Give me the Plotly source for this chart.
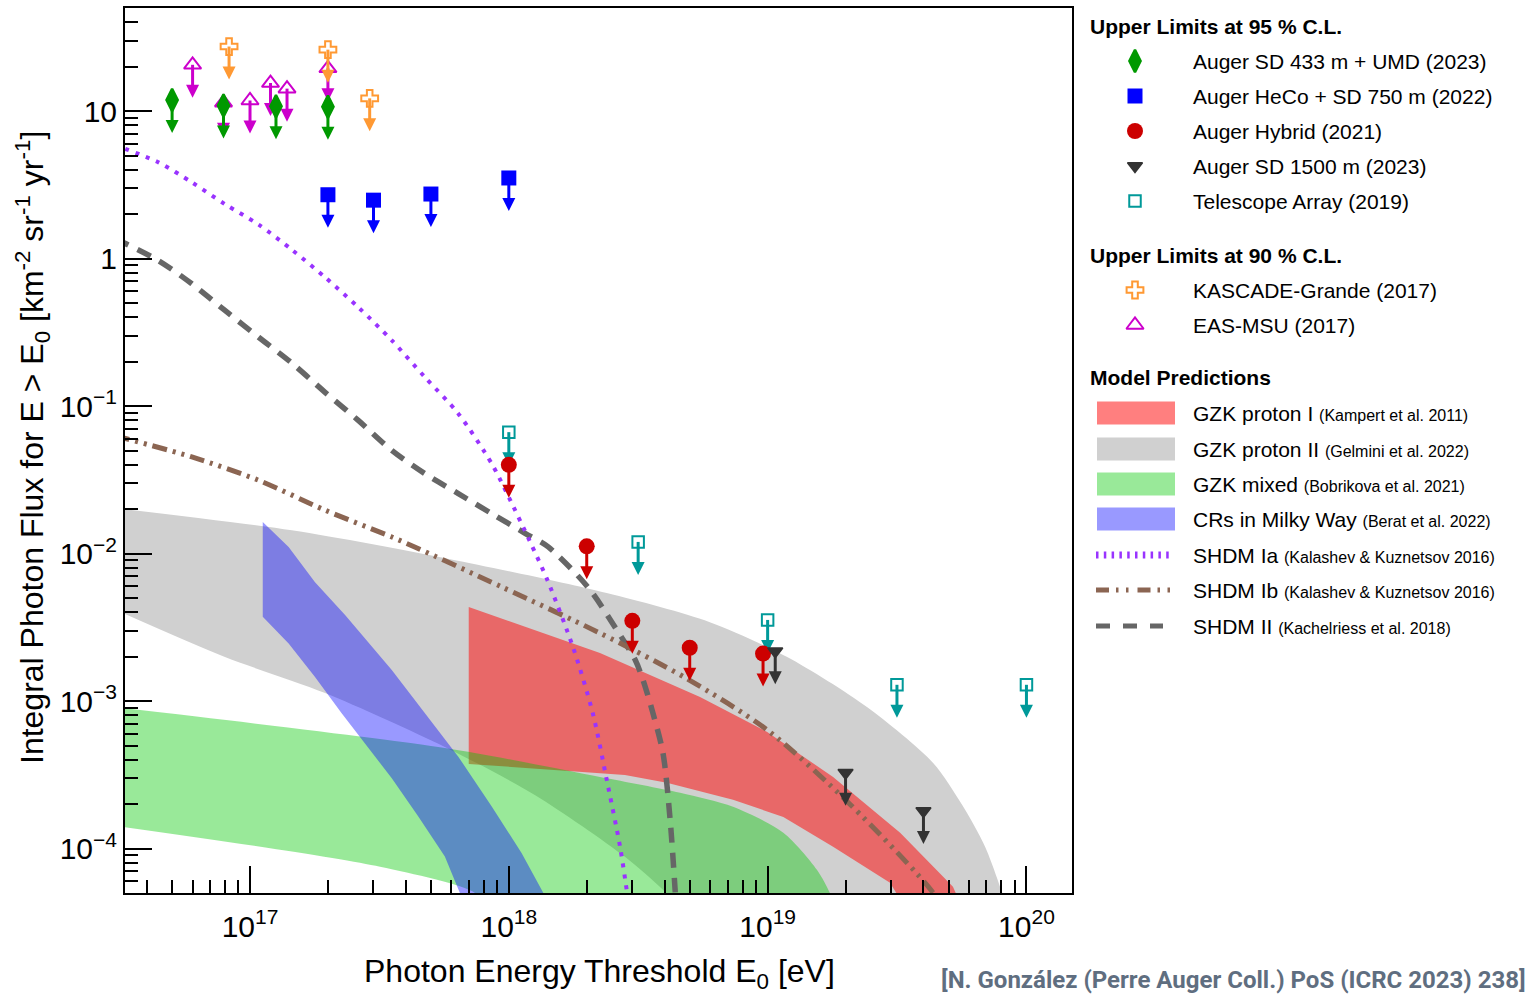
import plotly.graph_objects as go

# ------------------------------------------------------------------
# DATA  (E0 threshold in eV, integral photon flux in km^-2 sr^-1 yr^-1)
# ------------------------------------------------------------------
# Upper limits
sd433_E = [5.0e16, 7.9e16, 1.26e17, 2.0e17]
sd433_F = [11.9, 10.9, 10.8, 10.7]
heco_E = [2.0e17, 3.0e17, 5.0e17, 1.0e18]
heco_F = [2.71, 2.49, 2.74, 3.52]
hybrid_E = [1.0e18, 2.0e18, 3.0e18, 5.0e18, 9.6e18]
hybrid_F = [0.040, 0.0112, 0.0035, 0.0023, 0.0021]
sd1500_E = [1.07e19, 2.0e19, 4.0e19]
sd1500_F = [2.18e-3, 3.27e-4, 1.80e-4]
ta_E = [1.0e18, 3.16e18, 1.0e19, 3.16e19, 1.0e20]
ta_F = [0.0666, 0.0120, 0.00355, 0.00129, 0.00129]
kg_E = [8.3e16, 2.0e17, 2.9e17]
kg_F = [27.4, 26.1, 12.2]
msu_E = [6.0e16, 7.9e16, 1.0e17, 1.2e17, 1.39e17, 2.0e17]
msu_F = [20.6, 11.4, 11.8, 15.5, 14.2, 19.5]

# Model bands (upper edge / lower edge)
gzk2_up_E = [3.0e16, 1.45e17, 5.93e17, 2.39e18, 5.98e18, 1.19e19, 2.42e19, 4.36e19, 5.64e19, 6.92e19, 7.98e19, 8.34e19]
gzk2_up_F = [0.0204, 0.01439, 0.00917, 0.0054, 0.00343, 0.00199, 9.12e-4, 3.81e-4, 1.98e-4, 1.03e-4, 5.26e-5, 4.0e-5]
gzk2_lo_E = [3.0e16, 8.0e16, 1.95e17, 5.66e17, 1.26e18, 2.81e18, 3.94e18, 4.59e18]
gzk2_lo_F = [0.00418, 0.00199, 0.001135, 4.89e-4, 2.31e-4, 8.8e-5, 5.26e-5, 4.0e-5]

gzk1_up_E = [7.0e17, 2.25e18, 5.48e18, 9.96e18, 1.79e19, 3.25e19, 5.2e19, 5.64e19]
gzk1_up_F = [0.00434, 0.00212, 0.001067, 6.18e-4, 3.06e-4, 1.28e-4, 5.51e-5, 4.0e-5]
gzk1_lo_E = [7.0e17, 2.81e18, 4.08e18, 7.35e18, 1.15e19, 1.79e19, 2.97e19, 3.4e19]
gzk1_lo_F = [3.75e-4, 3.16e-4, 2.79e-4, 2.14e-4, 1.64e-4, 1.03e-4, 5.86e-5, 4.0e-5]

gzkmix_up_E = [3.0e16, 5.66e17, 2.25e18, 4.59e18, 7.35e18, 1.15e19, 1.55e19, 1.74e19, 1.81e19]
gzkmix_up_F = [9.1e-4, 4.81e-4, 3.06e-4, 2.39e-4, 1.92e-4, 1.28e-4, 7.19e-5, 5.0e-5, 4.0e-5]
gzkmix_lo_E = [3.0e16, 3.18e17, 7.4e17, 8.0e17]
gzkmix_lo_F = [1.43e-4, 7.53e-5, 5.0e-5, 4.0e-5]

mw_up_E = [1.12e17, 1.41e17, 1.78e17, 2.33e17, 3.53e17, 4.75e17, 6.38e17, 8.59e17, 1.12e18, 1.36e18, 1.44e18]
mw_up_F = [0.0164, 0.0111, 0.00643, 0.00383, 0.001625, 8.26e-4, 4.2e-4, 1.93e-4, 9.33e-5, 5.0e-5, 4.0e-5]
mw_lo_E = [1.12e17, 1.41e17, 1.78e17, 2.26e17, 3.53e17, 4.47e17, 5.66e17, 6.47e17, 6.65e17]
mw_lo_F = [0.00373, 0.00246, 0.001462, 8.26e-4, 3.0e-4, 1.65e-4, 8.85e-5, 5.0e-5, 4.0e-5]

# Model lines
shdm1a_E = [3.0e16, 4.43e16, 5.96e16, 8.0e16, 1.08e17, 1.45e17, 1.95e17, 2.62e17, 3.53e17, 4.74e17,
            6.38e17, 8.59e17, 1.0e18, 1.20e18, 1.41e18, 1.77e18, 2.11e18, 2.39e18, 2.69e18, 2.86e18, 2.91e18]
shdm1a_F = [5.9, 4.49, 3.29, 2.34, 1.70, 1.15, 0.747, 0.468, 0.279, 0.157,
            0.0889, 0.0407, 0.0241, 0.01233, 0.00661, 0.00232, 8.3e-4, 2.92e-4, 1.03e-4, 5.1e-5, 4.0e-5]
shdm1b_E = [3.0e16, 5.96e16, 1.08e17, 1.95e17, 3.53e17, 4.35e17, 9.42e17, 2.25e18, 4.84e18, 9.96e18, 2.08e19, 4.36e19, 4.63e19]
shdm1b_F = [0.063, 0.0452, 0.0314, 0.0197, 0.01297, 0.01104, 0.00593, 0.00289, 0.00143, 6.37e-4, 2.0e-4, 5.0e-5, 4.0e-5]
shdm2_E = [3.0e16, 4.43e16, 5.96e16, 8.0e16, 1.08e17, 1.45e17, 1.95e17, 2.62e17, 3.53e17, 4.74e17, 6.38e17,
           8.59e17, 1.16e18, 1.42e18, 2.02e18, 2.57e18, 3.08e18, 3.30e18, 3.55e18, 3.94e18, 4.20e18, 4.39e18, 4.43e18]
shdm2_F = [1.37, 0.969, 0.675, 0.445, 0.293, 0.196, 0.124, 0.080, 0.0501, 0.0348, 0.0255,
           0.01866, 0.01368, 0.0111, 0.00593, 0.00318, 0.0019, 0.00139, 9.12e-4, 4.46e-4, 1.57e-4, 5.26e-5, 4.0e-5]

# Axis ticks / labels
x_tick_vals = [1e17, 1e18, 1e19, 1e20]
x_tick_text = ["10<sup>17</sup>", "10<sup>18</sup>", "10<sup>19</sup>", "10<sup>20</sup>"]
y_tick_vals = [1e-4, 1e-3, 1e-2, 1e-1, 1, 10]
y_tick_text = ["10<sup>\u22124</sup>", "10<sup>\u22123</sup>", "10<sup>\u22122</sup>", "10<sup>\u22121</sup>", "1", "10"]

# ------------------------------------------------------------------
# LAYOUT CONSTANTS
# ------------------------------------------------------------------
W, H = 1529, 1000
PX0, PX1, PY0, PY1 = 125, 1072, 8, 893
X_RANGE = [16.517, 20.176]
Y_RANGE = [-4.30103, 1.69897]
DEC_PX = (PY1 - PY0) / (Y_RANGE[1] - Y_RANGE[0])
ARROW_PX = 33
FONT = "Liberation Sans, Arial, Helvetica, sans-serif"

C_GREEN = "#009900"
C_BLUE = "#0000ff"
C_RED = "#cc0000"
C_DARK = "#333333"
C_TEAL = "#009999"
C_ORANGE = "#ff9933"
C_MAGENTA = "#cc00cc"
C_PURPLE = "#9933ff"
C_BROWN = "#8b6552"
C_GRAYLINE = "#666666"
F_GRAY = "#d0d0d0"
F_RED = "rgba(255,0,0,0.5)"
F_GREEN = "rgba(0,200,0,0.4)"
F_BLUE = "rgba(0,0,255,0.4)"

fig = go.Figure()


def band(eu, fu, el, fl, color, shape):
    fig.add_trace(go.Scatter(
        x=list(eu) + list(el)[::-1], y=list(fu) + list(fl)[::-1],
        mode="lines", fill="toself", fillcolor=color,
        line=dict(width=0, color="rgba(0,0,0,0)", shape=shape, smoothing=0.8),
        hoverinfo="skip", showlegend=False))


band(gzk2_up_E, gzk2_up_F, gzk2_lo_E, gzk2_lo_F, F_GRAY, "spline")
band(gzk1_up_E, gzk1_up_F, gzk1_lo_E, gzk1_lo_F, F_RED, "linear")
band(gzkmix_up_E, gzkmix_up_F, gzkmix_lo_E, gzkmix_lo_F, F_GREEN, "spline")
band(mw_up_E, mw_up_F, mw_lo_E, mw_lo_F, F_BLUE, "linear")


def model_line(E, F, color, width, dash):
    fig.add_trace(go.Scatter(x=E, y=F, mode="lines",
                             line=dict(color=color, width=width, dash=dash, shape="spline", smoothing=0.8),
                             hoverinfo="skip", showlegend=False))


model_line(shdm2_E, shdm2_F, C_GRAYLINE, 5.5, "15px,10px")
model_line(shdm1b_E, shdm1b_F, C_BROWN, 5, "15px,6px,3px,6px,3px,6px")
model_line(shdm1a_E, shdm1a_F, C_PURPLE, 4, "4px,7px")

# upper-limit styles
STYLES = {
    "ta": dict(color=C_TEAL, symbol="square-open", size=11.5, lw=2),
    "hybrid": dict(color=C_RED, symbol="circle", size=16, lw=0),
    "sd1500": dict(color=C_DARK, symbol="triangle-down", size=13, lw=1.5),
    "heco": dict(color=C_BLUE, symbol="square", size=15, lw=0),
    "msu": dict(color=C_MAGENTA, symbol="triangle-up-open", size=15, lw=2),
    "kg": dict(color=C_ORANGE, symbol="cross-open", size=14, lw=2),
    "sd433": dict(color=C_GREEN, symbol="diamond-tall", size=16, lw=2.5),
}


def upper_limits(E, F, st):
    tipf = 10 ** (-ARROW_PX / DEC_PX)
    stemf = 10 ** (-(ARROW_PX - 7) / DEC_PX)
    xs, ys = [], []
    for e, f in zip(E, F):
        xs += [e, e, None]
        ys += [f, f * stemf, None]
    fig.add_trace(go.Scatter(x=xs, y=ys, mode="lines", line=dict(color=st["color"], width=3),
                             hoverinfo="skip", showlegend=False, cliponaxis=False))
    fig.add_trace(go.Scatter(x=E, y=[f * tipf for f in F], mode="markers",
                             marker=dict(symbol="arrow-down", size=13, color=st["color"], line=dict(width=0)),
                             hoverinfo="skip", showlegend=False, cliponaxis=False))
    fig.add_trace(go.Scatter(x=E, y=F, mode="markers",
                             marker=dict(symbol=st["symbol"], size=st["size"], color=st["color"],
                                         line=dict(color=st["color"], width=st["lw"])),
                             showlegend=False, cliponaxis=False))


upper_limits(ta_E, ta_F, STYLES["ta"])
upper_limits(hybrid_E, hybrid_F, STYLES["hybrid"])
upper_limits(sd1500_E, sd1500_F, STYLES["sd1500"])
upper_limits(heco_E, heco_F, STYLES["heco"])
upper_limits(msu_E, msu_F, STYLES["msu"])
upper_limits(kg_E, kg_F, STYLES["kg"])
upper_limits(sd433_E, sd433_F, STYLES["sd433"])

# ------------------------------------------------------------------
# LEGEND (drawn on an overlay axis in pixel units)
# ------------------------------------------------------------------
LEG_HEAD_X = 1088
LEG_MARK_X = 1135
LEG_TEXT_X = 1191
annotations = []
shapes = []

heads = [("Upper Limits at 95 % C.L.", 26), ("Upper Limits at 90 % C.L.", 255), ("Model Predictions", 377)]
for txt, yy in heads:
    annotations.append(dict(x=LEG_HEAD_X, y=yy, xref="x2", yref="y2", text="<b>%s</b>" % txt,
                            showarrow=False, xanchor="left", yanchor="middle",
                            font=dict(family=FONT, size=21, color="black")))

marker_rows = [
    ("sd433", "Auger SD 433 m + UMD (2023)", 61),
    ("heco", "Auger HeCo + SD 750 m (2022)", 96),
    ("hybrid", "Auger Hybrid (2021)", 131),
    ("sd1500", "Auger SD 1500 m (2023)", 166),
    ("ta", "Telescope Array (2019)", 201),
    ("kg", "KASCADE-Grande (2017)", 290),
    ("msu", "EAS-MSU (2017)", 325),
]
for key, txt, yy in marker_rows:
    st = STYLES[key]
    fig.add_trace(go.Scatter(x=[LEG_MARK_X], y=[yy], xaxis="x2", yaxis="y2", mode="markers",
                             marker=dict(symbol=st["symbol"], size=st["size"], color=st["color"],
                                         line=dict(color=st["color"], width=st["lw"])),
                             showlegend=False, hoverinfo="skip", cliponaxis=False))
    annotations.append(dict(x=LEG_TEXT_X, y=yy, xref="x2", yref="y2", text=txt, showarrow=False,
                            xanchor="left", yanchor="middle", font=dict(family=FONT, size=21, color="black")))

model_rows = [
    ("band", F_RED, "GZK proton I", "(Kampert et al. 2011)", 413),
    ("band", F_GRAY, "GZK proton II", "(Gelmini et al. 2022)", 449),
    ("band", F_GREEN, "GZK mixed", "(Bobrikova et al. 2021)", 484),
    ("band", F_BLUE, "CRs in Milky Way", "(Berat et al. 2022)", 519),
    ("line", (C_PURPLE, 7, "2.5px,5.3px", 1172), "SHDM Ia", "(Kalashev &amp; Kuznetsov 2016)", 555),
    ("line", (C_BROWN, 5, "13px,7px,2.5px,7.5px,2.5px,9px", 1175), "SHDM Ib", "(Kalashev &amp; Kuznetsov 2016)", 590),
    ("line", (C_GRAYLINE, 5, "14px,13px", 1163), "SHDM II", "(Kachelriess et al. 2018)", 626),
]
for kind, sty, main, ref, yy in model_rows:
    if kind == "band":
        shapes.append(dict(type="rect", xref="x2", yref="y2", x0=1097, x1=1175, y0=yy - 11.5, y1=yy + 11.5,
                           fillcolor=sty, line=dict(width=0), layer="above"))
    else:
        col, wd, dsh, xend = sty
        fig.add_trace(go.Scatter(x=[1096, xend], y=[yy, yy], xaxis="x2", yaxis="y2", mode="lines",
                                 line=dict(color=col, width=wd, dash=dsh),
                                 showlegend=False, hoverinfo="skip", cliponaxis=False))
    annotations.append(dict(x=LEG_TEXT_X, y=yy, xref="x2", yref="y2",
                            text="%s <span style='font-size:16px'>%s</span>" % (main, ref),
                            showarrow=False, xanchor="left", yanchor="middle",
                            font=dict(family=FONT, size=21, color="black")))

# axis titles and credit
annotations.append(dict(x=(PX0 + PX1) / 2 + 1, y=973, xref="x2", yref="y2",
                        text="Photon Energy Threshold E<sub>0</sub> [eV]", showarrow=False,
                        xanchor="center", yanchor="middle", font=dict(family=FONT, size=32, color="black")))
annotations.append(dict(x=32, y=448, xref="x2", yref="y2", textangle=-90,
                        text="Integral Photon Flux for E > E<sub>0</sub> [km<sup>-2</sup> sr<sup>-1</sup> yr<sup>-1</sup>]",
                        showarrow=False, xanchor="center", yanchor="middle",
                        font=dict(family=FONT, size=32, color="black")))
annotations.append(dict(x=1528, y=980, xref="x2", yref="y2",
                        text="<b>[N. González (Perre Auger Coll.) PoS (ICRC 2023) 238]</b>", showarrow=False,
                        xanchor="right", yanchor="middle",
                        font=dict(family="Roboto, Open Sans, sans-serif", size=24, color="#5f6e80")))

x_minor = [m * 10.0 ** k for k in range(16, 21) for m in range(2, 10)]
y_minor = [m * 10.0 ** k for k in range(-5, 2) for m in range(2, 10)]

fig.update_layout(
    width=W, height=H,
    margin=dict(l=0, r=0, t=0, b=0),
    paper_bgcolor="white", plot_bgcolor="rgba(0,0,0,0)",
    showlegend=False,
    font=dict(family=FONT, color="black"),
    xaxis=dict(type="log", range=X_RANGE, domain=[PX0 / W, PX1 / W], anchor="y",
               showgrid=False, zeroline=False, showline=True, linewidth=2, linecolor="black", mirror=True,
               tickmode="array", tickvals=x_tick_vals, ticktext=x_tick_text,
               ticks="inside", ticklen=27, tickwidth=2, tickcolor="black", ticklabelstandoff=6,
               tickfont=dict(family=FONT, size=30, color="black"),
               minor=dict(tickmode="array", tickvals=x_minor, ticks="inside", ticklen=13, tickwidth=1.5,
                          tickcolor="black", showgrid=False)),
    yaxis=dict(type="log", range=Y_RANGE, domain=[1 - PY1 / H, 1 - PY0 / H], anchor="x",
               showgrid=False, zeroline=False, showline=True, linewidth=2, linecolor="black", mirror=True,
               tickmode="array", tickvals=y_tick_vals, ticktext=y_tick_text,
               ticks="inside", ticklen=27, tickwidth=2, tickcolor="black",
               tickfont=dict(family=FONT, size=30, color="black"),
               minor=dict(tickmode="array", tickvals=y_minor, ticks="inside", ticklen=13, tickwidth=1.5,
                          tickcolor="black", showgrid=False)),
    xaxis2=dict(domain=[0, 1], range=[0, W], visible=False, anchor="y2", fixedrange=True),
    yaxis2=dict(domain=[0, 1], range=[H, 0], visible=False, anchor="x2", fixedrange=True),
    annotations=annotations,
    shapes=shapes,
)

fig.write_html("out.html", config={"displayModeBar": False},
               post_script="document.body.style.margin='0px';")
